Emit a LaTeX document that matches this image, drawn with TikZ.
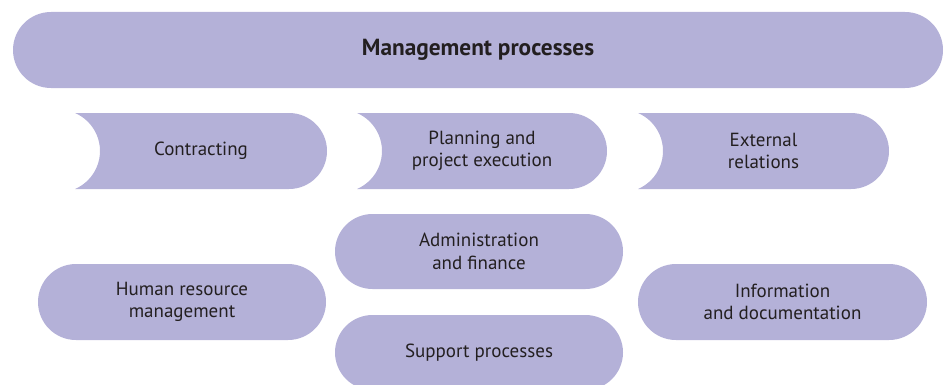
\documentclass[tikz,border=0pt]{standalone}
\usepackage{fontspec}
\setmainfont{PT Sans}
\usetikzlibrary{shapes.misc}
\definecolor{boxfill}{RGB}{180,177,216}
\definecolor{txt}{RGB}{35,31,32}
\tikzset{
  stad/.style={rounded rectangle, fill=boxfill, draw=none, inner sep=0pt,
    minimum height=75pt, text=txt, align=center, font=\fontsize{19}{22.5}\selectfont},
  lbl/.style={text=txt, align=center, font=\fontsize{19}{22.5}\selectfont, inner sep=0pt},
}
\newcommand{\chev}[3]{% x1, x2, ymid
  \fill[boxfill] (#1,#3+38) -- (#2-38,#3+38) arc[start angle=90,end angle=-90,radius=38]
    -- (#1,#3-38) arc[start angle=-66.65,end angle=66.65,radius=41.4] -- cycle;}
\begin{document}
\begin{tikzpicture}[x=1pt,y=1pt]
\useasboundingbox (0,0) rectangle (945,384);
\begin{scope}
\clip (0,0) rectangle (945,384);
\node[stad, minimum width=930pt, minimum height=76pt, font=\fontsize{23.3}{26}\selectfont\bfseries] (mgmt) at (478,334) {Management processes};
\chev{75}{327}{233}
\node[lbl] (contr) at (201,233) {Contracting};
\chev{357}{607}{233}
\node[lbl] (plan) at (482,233) {Planning and\\project execution};
\chev{638}{889}{233}
\node[lbl] (ext) at (763.5,233) {External\\relations};
\node[stad, minimum width=288pt] (admin) at (479,132.5) {Administration\\and finance};
\node[stad, minimum width=288pt] (supp) at (479,31.5) {Support processes};
\node[stad, minimum width=288pt, minimum height=76pt] (hr) at (182,82) {Human resource\\management};
\node[stad, minimum width=289pt, minimum height=76pt] (info) at (782.5,82) {Information\\and documentation};
\end{scope}
\end{tikzpicture}
\end{document}
